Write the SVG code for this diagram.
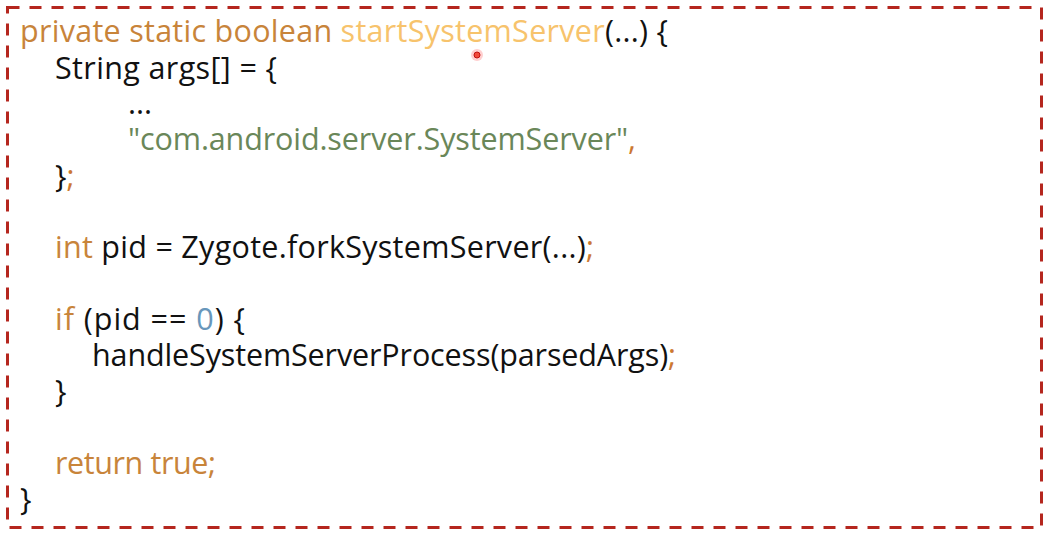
<svg xmlns="http://www.w3.org/2000/svg" width="1049" height="534" viewBox="0 0 1049 534">
<style>
text{font-family:"Open Sans","Noto Sans","Liberation Sans",sans-serif;font-size:30.5px;fill:#111;}
.kw{fill:#C8843A;}
.fn{fill:#F7C36C;}
.str{fill:#6A8759;}
.num{fill:#6897BB;}
.semi{fill:#CC7832;}
.border{fill:none;stroke:#B5261E;stroke-width:3;stroke-dasharray:12 10;}
</style>
<rect width="1049" height="534" fill="#ffffff"/>
<g id="frame"><rect class="border" x="7.5" y="7.5" width="1034" height="520"/></g>
<g id="code">
<text x="20" y="42" textLength="648" lengthAdjust="spacing"><tspan class="kw">private static boolean </tspan><tspan class="fn">startSystemServer</tspan>(...) {</text>
<text x="55" y="79" textLength="222" lengthAdjust="spacing">String args[] = {</text>
<text x="128" y="114">...</text>
<text x="128" y="150" textLength="508" lengthAdjust="spacing"><tspan class="str">"com.android.server.SystemServer"</tspan><tspan class="semi">,</tspan></text>
<text x="55" y="187">}<tspan class="semi">;</tspan></text>
<text x="55" y="258" textLength="539" lengthAdjust="spacing"><tspan class="kw">int</tspan> pid = Zygote.forkSystemServer(...)<tspan class="semi">;</tspan></text>
<text x="55" y="330" textLength="190" lengthAdjust="spacing"><tspan class="kw">if</tspan> (pid == <tspan class="num">0</tspan>) {</text>
<text x="92" y="366" textLength="584" lengthAdjust="spacing">handleSystemServerProcess(parsedArgs)<tspan class="semi">;</tspan></text>
<text x="55" y="402">}</text>
<text x="55" y="474" class="kw" textLength="161" lengthAdjust="spacing">return true;</text>
<text x="20" y="510">}</text>
</g>
<g id="pointer"><circle cx="477" cy="55" r="6" fill="#ff4040" opacity="0.25"/><circle cx="477" cy="55" r="3" fill="#f24a3a" stroke="#c01010" stroke-width="1"/></g>
</svg>
